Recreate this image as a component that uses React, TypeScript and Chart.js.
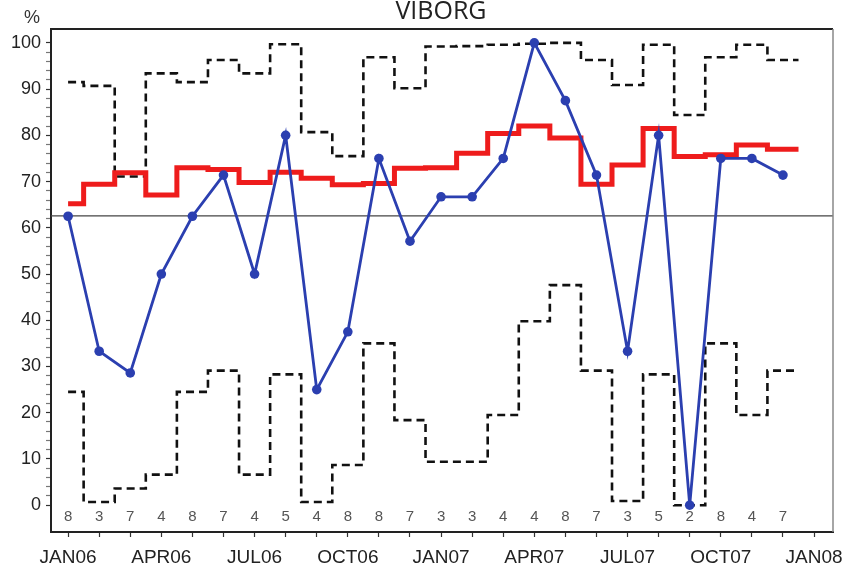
import React, { useEffect, useRef } from 'react';
import { Chart, registerables } from 'chart.js';

Chart.register(...registerables);

// Monthly categories (Jan 2006 - Dec 2007)
const months = [
  'JAN06', 'FEB06', 'MAR06', 'APR06', 'MAY06', 'JUN06', 'JUL06', 'AUG06', 'SEP06', 'OCT06', 'NOV06', 'DEC06',
  'JAN07', 'FEB07', 'MAR07', 'APR07', 'MAY07', 'JUN07', 'JUL07', 'AUG07', 'SEP07', 'OCT07', 'NOV07', 'DEC07',
];
const quarterLabels = ['JAN06', 'APR06', 'JUL06', 'OCT06', 'JAN07', 'APR07', 'JUL07', 'OCT07', 'JAN08'];
const yTickLabels = [0, 10, 20, 30, 40, 50, 60, 70, 80, 90, 100];

// Monthly rate (%)
const monthlyRate = [62.5, 33.3, 28.6, 50, 62.5, 71.4, 50, 80, 25, 37.5, 75, 57.1, 66.7, 66.7, 75, 100, 87.5, 71.4, 33.3, 80, 0, 75, 75, 71.4];
// Number of cases per month
const counts = [8, 3, 7, 4, 8, 7, 4, 5, 4, 8, 8, 7, 3, 3, 4, 4, 8, 7, 3, 5, 2, 8, 4, 7];
// Red step line
const redLine = [65.2, 69.4, 71.9, 67.1, 73.0, 72.6, 69.8, 72.0, 70.7, 69.3, 69.6, 72.9, 73.0, 76.1, 80.4, 82.0, 79.4, 69.4, 73.6, 81.5, 75.4, 75.8, 77.9, 77.0];
// Upper and lower control limits
const upperLimit = [91.5, 90.7, 71.1, 93.4, 91.5, 96.3, 93.4, 99.7, 80.7, 75.5, 96.9, 90.2, 99.2, 99.3, 99.6, 99.8, 100, 96.3, 90.9, 99.6, 84.4, 96.9, 99.6, 96.3];
const lowerLimit = [24.5, 0.7, 3.6, 6.6, 24.5, 29.1, 6.6, 28.3, 0.7, 8.7, 35.0, 18.4, 9.4, 9.4, 19.5, 39.8, 47.6, 29.1, 0.9, 28.3, 0, 35.0, 19.5, 29.1];
const centerLine = 62.6;

const TITLE = 'VIBORG';
const Y_UNIT = '%';

const FONT = '"Liberation Sans", Arial, sans-serif';

function stepPoints(arr: number[]) {
  const pts = arr.map((y, i) => ({ x: i, y }));
  pts.push({ x: arr.length - 0.5, y: arr[arr.length - 1] });
  return pts;
}

const decorPlugin = {
  id: 'decor',
  beforeDatasetsDraw(chart: any) {
    const { ctx, chartArea, scales } = chart;
    const y = scales.y.getPixelForValue(centerLine);
    ctx.save();
    ctx.strokeStyle = '#444';
    ctx.lineWidth = 1.2;
    ctx.beginPath();
    ctx.moveTo(chartArea.left, y);
    ctx.lineTo(chartArea.right, y);
    ctx.stroke();
    ctx.restore();
  },
  afterDraw(chart: any) {
    const { ctx, chartArea, scales } = chart;
    ctx.save();
    // frame: top and right
    ctx.strokeStyle = '#222';
    ctx.lineWidth = 2;
    ctx.beginPath();
    ctx.moveTo(chartArea.left - 1, chartArea.top);
    ctx.lineTo(chartArea.right, chartArea.top);
    ctx.stroke();
    ctx.strokeStyle = '#888';
    ctx.lineWidth = 1.5;
    ctx.beginPath();
    ctx.moveTo(chartArea.right, chartArea.top);
    ctx.lineTo(chartArea.right, chartArea.bottom);
    ctx.stroke();

    // title
    ctx.fillStyle = '#222';
    ctx.font = '25px "Open Sans", sans-serif';
    ctx.textAlign = 'center';
    ctx.textBaseline = 'middle';
    ctx.fillText(TITLE, 441, 12);

    // y unit
    ctx.font = '18px ' + FONT;
    ctx.fillStyle = '#333';
    ctx.fillText(Y_UNIT, 32, 18);

    // counts
    ctx.font = '15px ' + FONT;
    ctx.fillStyle = '#555';
    const cy = scales.y.getPixelForValue(-2.6);
    counts.forEach((c, i) => {
      ctx.fillText(String(c), scales.x.getPixelForValue(i), cy);
    });
    ctx.restore();
  },
};

export default function App() {
  const ref = useRef<HTMLCanvasElement>(null);
  useEffect(() => {
    if (!ref.current) return;
    const chart = new Chart(ref.current, {
      type: 'line',
      data: {
        datasets: [
          {
            label: 'rate',
            data: monthlyRate.map((y, i) => ({ x: i, y })),
            borderColor: '#2b3fb0',
            backgroundColor: '#2b3fb0',
            borderWidth: 2.8,
            pointRadius: 4.8,
            pointBorderWidth: 0,
            tension: 0,
          },
          {
            label: 'red',
            data: stepPoints(redLine),
            borderColor: '#ee1c1c',
            borderWidth: 5,
            pointRadius: 0,
            stepped: 'middle',
          },
          {
            label: 'upper',
            data: stepPoints(upperLimit),
            borderColor: '#111',
            borderWidth: 2.6,
            borderDash: [8, 5],
            pointRadius: 0,
            stepped: 'middle',
          },
          {
            label: 'lower',
            data: stepPoints(lowerLimit),
            borderColor: '#111',
            borderWidth: 2.6,
            borderDash: [8, 5],
            pointRadius: 0,
            stepped: 'middle',
          },
        ],
      },
      options: {
        animation: false,
        responsive: false,
        maintainAspectRatio: false,
        layout: { padding: { top: 29, right: 13, left: 0, bottom: 0 } },
        plugins: {
          legend: { display: false },
          title: { display: false },
          tooltip: { enabled: false },
        },
        scales: {
          x: {
            type: 'linear',
            min: -0.55,
            max: 24.61,
            afterFit: (s: any) => {
              s.height = 38;
              s.paddingLeft = 0;
              s.paddingRight = 0;
            },
            afterBuildTicks: (s: any) => {
              s.ticks = Array.from({ length: months.length + 1 }, (_, i) => ({ value: i }));
            },
            ticks: {
              autoSkip: false,
              maxRotation: 0,
              padding: 9,
              color: '#222',
              font: { family: FONT, size: 19 },
              callback: (v: any) => (Number(v) % 3 === 0 ? quarterLabels[Number(v) / 3] : ''),
            },
            grid: { drawOnChartArea: false, tickLength: 5, color: '#333', tickWidth: 1.2 },
            border: { display: true, color: '#222', width: 2 },
          },
          y: {
            type: 'linear',
            min: -5.8,
            max: 103,
            afterFit: (s: any) => {
              s.width = 51;
              s.paddingTop = 0;
              s.paddingBottom = 0;
            },
            afterBuildTicks: (s: any) => {
              const t: any[] = [];
              for (let v = yTickLabels[0]; v <= yTickLabels[yTickLabels.length - 1]; v += 2) t.push({ value: v });
              s.ticks = t;
            },
            ticks: {
              autoSkip: false,
              padding: 5,
              color: '#222',
              font: { family: FONT, size: 18 },
              callback: (v: any) => (yTickLabels.includes(Number(v)) ? String(v) : ''),
            },
            grid: {
              drawOnChartArea: false,
              tickLength: 5,
              color: (c: any) => (c.tick && yTickLabels.includes(c.tick.value) ? '#333' : '#777'),
              tickWidth: 1.2,
            },
            border: { display: true, color: '#222', width: 2 },
          },
        },
      },
      plugins: [decorPlugin],
    });
    return () => chart.destroy();
  }, []);
  return (
    <div style={{ position: 'absolute', left: 0, top: 0, width: 846, height: 570, background: '#fff' }}>
      <canvas ref={ref} width={846} height={570} style={{ display: 'block' }} />
    </div>
  );
}
